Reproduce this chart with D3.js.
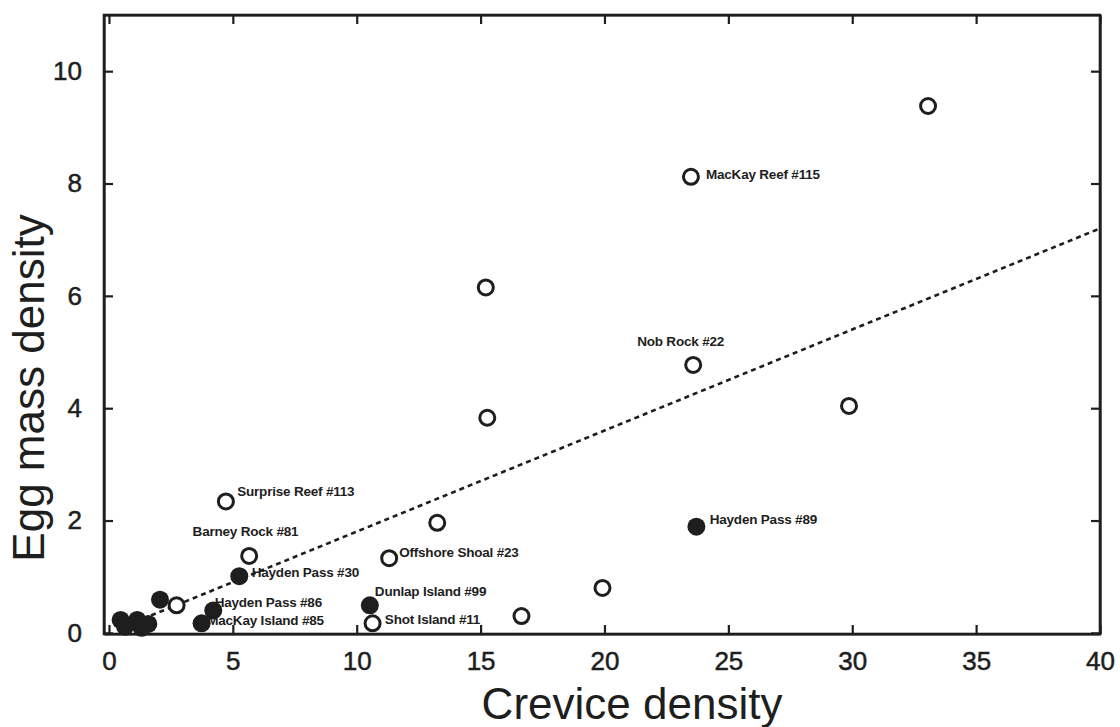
<!DOCTYPE html>
<meta charset="utf-8">
<style>
body { margin: 0; background: #fff; }
svg { display: block; }
.axis path, .axis line { stroke: #1e1e1e; stroke-width: 2.2; fill: none; }
.axis text { font: 26px "Liberation Sans", Arial, sans-serif; fill: #1e1e1e; stroke: #1e1e1e; stroke-width: 0.5; }
.title { font: 44px "Liberation Sans", Arial, sans-serif; fill: #1e1e1e; }
.site { font: bold 13.5px "Liberation Sans", Arial, sans-serif; fill: #1e1e1e; letter-spacing: -0.2px; }
.fit { stroke: #1e1e1e; stroke-width: 2.6; stroke-dasharray: 5,4; fill: none; }
</style>
<body>
<script src="https://d3js.org/d3.v7.min.js"></script>
<script>

// open circles
var openCrevice = [33.06, 23.49, 15.21, 23.58, 29.87, 15.27, 4.72, 13.25, 5.66, 11.31, 19.92, 16.65, 10.64, 2.73];
var openEgg     = [9.38, 8.12, 6.15, 4.77, 4.04, 3.83, 2.34, 1.96, 1.37, 1.33, 0.80, 0.30, 0.17, 0.49];
var openNames   = ["", "MacKay Reef #115", "", "Nob Rock #22", "", "", "Surprise Reef #113", "", "Barney Rock #81", "Offshore Shoal #23", "", "", "Shot Island #11", ""];

// filled circles
var filledCrevice = [23.71, 5.26, 10.53, 2.06, 4.21, 3.74, 0.47, 1.14, 1.59, 0.65, 1.32];
var filledEgg     = [1.89, 1.01, 0.49, 0.59, 0.40, 0.17, 0.23, 0.23, 0.16, 0.11, 0.09];
var filledNames   = ["Hayden Pass #89", "Hayden Pass #30", "Dunlap Island #99", "", "Hayden Pass #86", "MacKay Island #85", "", "", "", "", ""];

// dotted fit line end points
var fitX = [1.7, 40];
var fitY = [0.31, 7.2];

var xTicks = [0, 5, 10, 15, 20, 25, 30, 35, 40];
var yTicks = [0, 2, 4, 6, 8, 10];

// where each label sits relative to its point (dx, dy)
var labelOffset = {
  "MacKay Reef #115": [15, 2.6],
  "Nob Rock #22": [-56, -19],
  "Surprise Reef #113": [11.3, -5.7],
  "Barney Rock #81": [-56.6, -20],
  "Offshore Shoal #23": [10, -1],
  "Shot Island #11": [12.3, 0.7],
  "Hayden Pass #89": [13.3, -2.7],
  "Hayden Pass #30": [12.4, 1.3],
  "Dunlap Island #99": [5, -9],
  "Hayden Pass #86": [1.4, -3.4],
  "MacKay Island #85": [5.6, 1.7]
};

var W = 1120, H = 727;
var plotL = 104, plotR = 1100, plotT = 15, plotB = 634;

var x = d3.scaleLinear().domain([-0.2, 40]).range([plotL, plotR]);
var y = d3.scaleLinear().domain([-0.02, 11]).range([plotB, plotT]);

var svg = d3.select('body').append('svg')
    .attr('width', W).attr('height', H);

svg.append('rect').attr('width', W).attr('height', H).attr('fill', '#fff');

// axes, ticks point inward
svg.append('g').attr('class', 'axis')
  .attr('transform', 'translate(0,' + plotB + ')')
  .call(d3.axisBottom(x).tickValues(xTicks).tickSizeInner(-9).tickSizeOuter(0).tickPadding(18))
  .selectAll('text').attr('dy', '0.71em');

svg.append('g').attr('class', 'axis')
  .attr('transform', 'translate(0,' + plotT + ')')
  .call(d3.axisTop(x).tickValues(xTicks).tickSizeInner(-9).tickSizeOuter(0).tickFormat(''));

svg.append('g').attr('class', 'axis')
  .attr('transform', 'translate(' + plotL + ',0)')
  .call(d3.axisLeft(y).tickValues(yTicks).tickSizeInner(-9).tickSizeOuter(0).tickPadding(22));

svg.append('g').attr('class', 'axis')
  .attr('transform', 'translate(' + plotR + ',0)')
  .call(d3.axisRight(y).tickValues(yTicks).tickSizeInner(-9).tickSizeOuter(0).tickFormat(''));

// frame
svg.append('rect')
  .attr('x', plotL).attr('y', plotT)
  .attr('width', plotR - plotL).attr('height', plotB - plotT)
  .attr('fill', 'none').attr('stroke', '#1e1e1e').attr('stroke-width', 2.6);

// titles
svg.append('text').attr('class', 'title')
  .attr('x', 632).attr('y', 719)
  .attr('text-anchor', 'middle')
  .text('Crevice density');

svg.append('text').attr('class', 'title')
  .attr('transform', 'translate(44,388) rotate(-90)')
  .attr('text-anchor', 'middle')
  .text('Egg mass density');

// fit line
svg.append('path').attr('class', 'fit')
  .attr('d', d3.line().x(function(d){ return x(d[0]); }).y(function(d){ return y(d[1]); })(d3.zip(fitX, fitY)));

var openPts = d3.zip(openCrevice, openEgg, openNames);
var filledPts = d3.zip(filledCrevice, filledEgg, filledNames);

// labels go under the markers
var labelled = openPts.concat(filledPts).filter(function(d){ return d[2] !== ""; });
svg.append('g').selectAll('text').data(labelled).enter()
  .append('text').attr('class', 'site')
  .attr('x', function(d){ return x(d[0]) + labelOffset[d[2]][0]; })
  .attr('y', function(d){ return y(d[1]) + labelOffset[d[2]][1]; })
  .text(function(d){ return d[2]; });

svg.append('g').selectAll('circle').data(openPts).enter()
  .append('circle')
  .attr('cx', function(d){ return x(d[0]); })
  .attr('cy', function(d){ return y(d[1]); })
  .attr('r', 7.5)
  .attr('fill', '#fff')
  .attr('stroke', '#1e1e1e')
  .attr('stroke-width', 3);

svg.append('g').selectAll('circle').data(filledPts).enter()
  .append('circle')
  .attr('cx', function(d){ return x(d[0]); })
  .attr('cy', function(d){ return y(d[1]); })
  .attr('r', 9)
  .attr('fill', '#1e1e1e');

</script>
</body>
